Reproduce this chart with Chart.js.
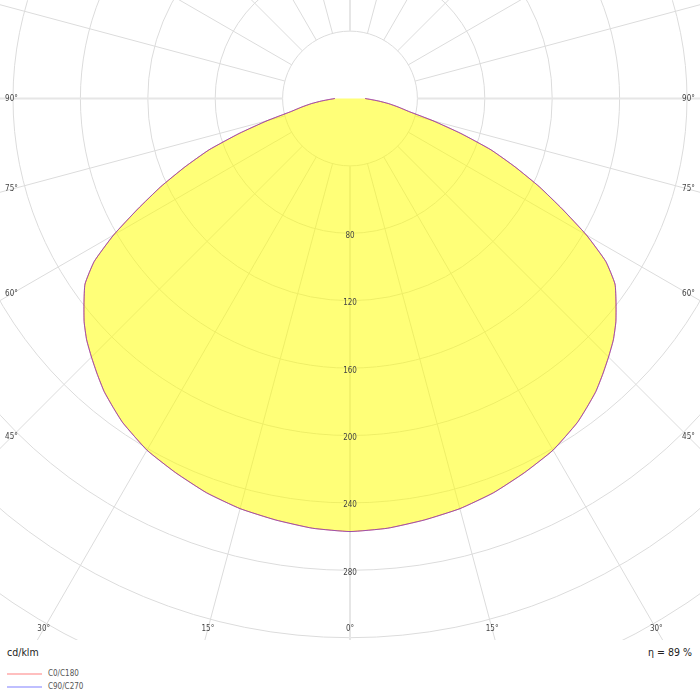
<!DOCTYPE html>
<html>
<head>
<meta charset="utf-8">
<script src="https://cdn.jsdelivr.net/npm/chart.js@4/dist/chart.umd.min.js"></script>
<style>
    body { margin: 0; background: #fff; }
    #wrap { position: relative; width: 700px; height: 700px; overflow: hidden; font-family: "DejaVu Sans Condensed", "Liberation Sans", sans-serif; }
    #diagram { position: absolute; left: 0; top: 0; }
    .note { position: absolute; font-size: 10.5px; color: #222; line-height: 12px; }
    #unit { left: 7px; top: 646px; }
    #eta { right: 8px; top: 646px; }
    .legend-row { position: absolute; left: 7px; height: 10px; font-size: 8px; color: #555; line-height: 10px; }
    .legend-row span.line { display: inline-block; width: 35px; height: 2px; vertical-align: middle; margin-right: 6px; }
</style>
</head>
<body>
<div id="wrap">
    <canvas id="diagram" width="700" height="640"></canvas>
    <div class="note" id="unit"></div>
    <div class="note" id="eta"></div>
    <div id="legend"></div>
</div>
<script>
// gamma angle (deg, 0 = straight down) and intensity in cd/klm
const gammaDeg = [0, 5, 10, 15, 20, 25, 30, 35, 37.5, 40, 42.5, 45, 47.5, 50, 52.5, 55, 57.5, 60,
    62.5, 65, 67.5, 70, 72.5, 75, 77.5, 80, 82.5, 85, 87.5, 90];
const c0c180 = [257, 256, 254, 252, 249, 245, 241, 235, 231, 227, 222, 217, 212, 206, 199, 192, 180, 162,
    142, 124, 106, 89, 69, 51, 36, 29, 23, 17, 12, 9];
const c90c270 = [257, 256, 254, 252, 249, 245, 241, 235, 231, 227, 222, 217, 212, 206, 199, 192, 180, 162,
    142, 124, 106, 89, 69, 51, 36, 29, 23, 17, 12, 9];

const seriesNames = ["C0/C180", "C90/C270"];
const ringValues = [40, 80, 120, 160, 200, 240, 280, 320, 360, 400];
const ringLabels = [80, 120, 160, 200, 240, 280];
const angleLabels = [0, 15, 30, 45, 60, 75, 90];
const unitText = "cd/klm";
const etaText = "η = 89 %";

const pxPerUnit = 1.685;
const canvasW = 700, canvasH = 640, centerY = 98.5;

// closed polar outline: left half from 90° down to 0°, then right half back up to 90°
function polarPoints(values) {
    const pts = [];
    for (let i = gammaDeg.length - 1; i >= 0; i--) {
        const g = gammaDeg[i] * Math.PI / 180;
        pts.push({ x: -values[i] * Math.sin(g), y: -values[i] * Math.cos(g) });
    }
    for (let i = 1; i < gammaDeg.length; i++) {
        const g = gammaDeg[i] * Math.PI / 180;
        pts.push({ x: values[i] * Math.sin(g), y: -values[i] * Math.cos(g) });
    }
    return pts;
}

const polarGrid = {
    id: "polarGrid",
    beforeDatasetsDraw(chart) {
        const { ctx, chartArea, scales } = chart;
        const cx = scales.x.getPixelForValue(0);
        const cy = scales.y.getPixelForValue(0);
        const k = scales.x.getPixelForValue(1) - cx;
        ctx.save();
        ctx.beginPath();
        ctx.rect(chartArea.left, chartArea.top, chartArea.right - chartArea.left, chartArea.bottom - chartArea.top);
        ctx.clip();

        ctx.strokeStyle = "rgb(220,220,220)";
        ctx.lineWidth = 1;
        ringValues.forEach(v => {
            ctx.beginPath();
            ctx.arc(cx, cy, v * k, 0, Math.PI * 2);
            ctx.stroke();
        });

        const r0 = ringValues[0] * k;
        const r1 = 800;
        for (let a = 0; a < 360; a += 15) {
            const rad = a * Math.PI / 180;
            const sx = Math.sin(rad), sy = Math.cos(rad);
            const main = a % 90 === 0;
            ctx.strokeStyle = main ? "rgb(230,230,230)" : "rgb(220,220,220)";
            ctx.lineWidth = main ? 2 : 1;
            ctx.beginPath();
            ctx.moveTo(cx + sx * r0, cy + sy * r0);
            ctx.lineTo(cx + sx * r1, cy + sy * r1);
            ctx.stroke();
        }
        ctx.restore();
    },
    afterDatasetsDraw(chart) {
        const { ctx, chartArea, scales } = chart;
        const cx = scales.x.getPixelForValue(0);
        const cy = scales.y.getPixelForValue(0);
        const k = scales.x.getPixelForValue(1) - cx;
        ctx.save();
        ctx.font = '8px "DejaVu Sans Condensed", "Liberation Sans", sans-serif';
        ctx.fillStyle = "#444";
        ctx.textAlign = "center";
        ctx.textBaseline = "middle";

        ringLabels.forEach(v => {
            ctx.fillText(String(v), cx, cy + v * k + 2.5);
        });

        const insetX = 11.5, insetB = 11;
        const halfW = (chartArea.right - chartArea.left) / 2 - insetX;
        const down = chartArea.bottom - insetB - cy;
        angleLabels.forEach(a => {
            const rad = a * Math.PI / 180;
            const sx = Math.sin(rad), sy = Math.cos(rad);
            let t = Infinity;
            if (sx > 1e-6) t = Math.min(t, halfW / sx);
            if (sy > 1e-6) t = Math.min(t, down / sy);
            const dx = sx * t, dy = sy * t;
            ctx.fillText(a + "°", cx - dx, cy + dy);
            if (a !== 0) ctx.fillText(a + "°", cx + dx, cy + dy);
        });
        ctx.restore();
    }
};

new Chart(document.getElementById("diagram"), {
    type: "scatter",
    data: {
        datasets: [
            {
                label: seriesNames[0],
                data: polarPoints(c0c180),
                order: 2,
                showLine: true,
                pointRadius: 0,
                borderWidth: 1,
                borderColor: "rgba(255,0,0,0.55)",
                backgroundColor: "rgba(255,255,0,0.53)",
                fill: "shape",
                tension: 0.15
            },
            {
                label: seriesNames[1],
                data: polarPoints(c90c270),
                order: 1,
                showLine: true,
                pointRadius: 0,
                borderWidth: 1,
                borderColor: "rgba(90,60,230,0.6)",
                fill: false,
                tension: 0.15
            }
        ]
    },
    options: {
        responsive: false,
        animation: false,
        layout: { padding: 0 },
        plugins: {
            legend: { display: false },
            tooltip: { enabled: false }
        },
        scales: {
            x: { type: "linear", display: false, min: -canvasW / 2 / pxPerUnit, max: canvasW / 2 / pxPerUnit },
            y: { type: "linear", display: false, min: -(canvasH - centerY) / pxPerUnit, max: centerY / pxPerUnit }
        }
    },
    plugins: [polarGrid]
});

document.getElementById("unit").textContent = unitText;
document.getElementById("eta").textContent = etaText;

const legendColors = ["rgba(255,0,0,0.25)", "rgba(0,0,255,0.25)"];
const legend = document.getElementById("legend");
seriesNames.forEach((name, i) => {
    const row = document.createElement("div");
    row.className = "legend-row";
    row.style.top = (669 + i * 13) + "px";
    row.innerHTML = `<span class="line" style="background:${legendColors[i]}"></span>${name}`;
    legend.appendChild(row);
});
</script>
</body>
</html>
